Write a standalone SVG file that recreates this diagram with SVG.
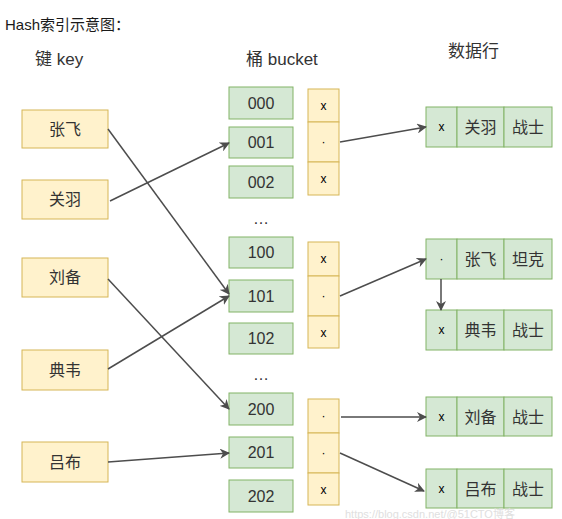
<svg xmlns="http://www.w3.org/2000/svg" width="562" height="519" viewBox="0 0 562 519">
<defs>
<marker id="ah" viewBox="0 0 10 10" refX="9" refY="5" markerWidth="10" markerHeight="10" markerUnits="userSpaceOnUse" orient="auto">
<path d="M0,0 L10,5 L0,10 L3,5 Z" fill="#4d4d4d"/>
</marker>
<style>
text{font-family:"Liberation Sans","Noto Sans CJK SC",sans-serif;fill:#333;}
.y{fill:#fff2cc;stroke:#d6b656;stroke-width:1;}
.g{fill:#d5e8d4;stroke:#82b366;stroke-width:1;}
.h{font-size:17px;}
.k{font-size:16px;text-anchor:middle;}
.p{font-size:12px;text-anchor:middle;fill:#000;}
.c line{stroke:#4d4d4d;stroke-width:1.5;marker-end:url(#ah);}
.wm{font-size:11px;fill:#e0e0e0;}
</style>
</defs>
<rect width="562" height="519" fill="#fff"/>
<text x="5" y="30" style="font-size:15px;fill:#1a1a1a">Hash索引示意图：</text>
<text class="h" x="35" y="65">键 key</text>
<text class="h" x="246" y="65">桶 bucket</text>
<text class="h" x="448" y="57">数据行</text>

<g id="keys">
<g id="k-zhangfei"><rect class="y" x="22" y="110" width="86" height="38"/><text class="k" x="65" y="135">张飞</text></g>
<g id="k-guanyu"><rect class="y" x="22" y="180" width="86" height="39"/><text class="k" x="65" y="205">关羽</text></g>
<g id="k-liubei"><rect class="y" x="22" y="258" width="86" height="39"/><text class="k" x="65" y="283">刘备</text></g>
<g id="k-dianwei"><rect class="y" x="22" y="350" width="86" height="40"/><text class="k" x="65" y="376">典韦</text></g>
<g id="k-lvbu"><rect class="y" x="22" y="442" width="86" height="40"/><text class="k" x="65" y="468">吕布</text></g>
</g>

<g id="buckets">
<g id="b000"><rect class="g" x="229" y="87" width="64" height="32"/><text class="k" x="261" y="109">000</text></g>
<g id="b001"><rect class="g" x="229" y="127" width="64" height="31"/><text class="k" x="261" y="148">001</text></g>
<g id="b002"><rect class="g" x="229" y="166" width="64" height="32"/><text class="k" x="261" y="188">002</text></g>
<text class="k" x="261" y="224">…</text>
<g id="b100"><rect class="g" x="229" y="237" width="64" height="31"/><text class="k" x="261" y="258">100</text></g>
<g id="b101"><rect class="g" x="229" y="280" width="64" height="32"/><text class="k" x="261" y="302">101</text></g>
<g id="b102"><rect class="g" x="229" y="323" width="64" height="31"/><text class="k" x="261" y="344">102</text></g>
<text class="k" x="261" y="380">…</text>
<g id="b200"><rect class="g" x="229" y="393" width="64" height="32"/><text class="k" x="261" y="415">200</text></g>
<g id="b201"><rect class="g" x="229" y="437" width="64" height="31"/><text class="k" x="261" y="458">201</text></g>
<g id="b202"><rect class="g" x="229" y="480" width="64" height="32"/><text class="k" x="261" y="502">202</text></g>
</g>

<g id="pointers">
<g id="ptr0">
<rect class="y" x="308" y="89" width="31" height="33"/><text class="p" x="323.5" y="110">x</text>
<rect class="y" x="308" y="122" width="31" height="40"/><text class="p" x="323.5" y="146">·</text>
<rect class="y" x="308" y="162" width="31" height="33"/><text class="p" x="323.5" y="183">x</text>
</g>
<g id="ptr1">
<rect class="y" x="308" y="242" width="31" height="34"/><text class="p" x="323.5" y="263">x</text>
<rect class="y" x="308" y="276" width="31" height="40"/><text class="p" x="323.5" y="300">·</text>
<rect class="y" x="308" y="316" width="31" height="32"/><text class="p" x="323.5" y="337">x</text>
</g>
<g id="ptr2">
<rect class="y" x="308" y="399" width="31" height="34"/><text class="p" x="323.5" y="420">·</text>
<rect class="y" x="308" y="433" width="31" height="40"/><text class="p" x="323.5" y="457">·</text>
<rect class="y" x="308" y="473" width="31" height="32"/><text class="p" x="323.5" y="494">x</text>
</g>
</g>

<g id="rows">
<g id="r-guanyu"><rect class="g" x="426" y="107" width="31" height="40"/><rect class="g" x="457" y="107" width="47" height="40"/><rect class="g" x="504" y="107" width="48" height="40"/>
<text class="p" x="441.5" y="131">x</text><text class="k" x="480.5" y="133">关羽</text><text class="k" x="528" y="133">战士</text></g>
<g id="r-zhangfei"><rect class="g" x="426" y="239" width="31" height="40"/><rect class="g" x="457" y="239" width="47" height="40"/><rect class="g" x="504" y="239" width="48" height="40"/>
<text class="p" x="441.5" y="263">·</text><text class="k" x="480.5" y="265">张飞</text><text class="k" x="528" y="265">坦克</text></g>
<g id="r-dianwei"><rect class="g" x="426" y="310" width="31" height="40"/><rect class="g" x="457" y="310" width="47" height="40"/><rect class="g" x="504" y="310" width="48" height="40"/>
<text class="p" x="441.5" y="334">x</text><text class="k" x="480.5" y="336">典韦</text><text class="k" x="528" y="336">战士</text></g>
<g id="r-liubei"><rect class="g" x="426" y="397" width="31" height="39"/><rect class="g" x="457" y="397" width="47" height="39"/><rect class="g" x="504" y="397" width="48" height="39"/>
<text class="p" x="441.5" y="421">x</text><text class="k" x="480.5" y="423">刘备</text><text class="k" x="528" y="423">战士</text></g>
<g id="r-lvbu"><rect class="g" x="426" y="469" width="31" height="39"/><rect class="g" x="457" y="469" width="47" height="39"/><rect class="g" x="504" y="469" width="48" height="39"/>
<text class="p" x="441.5" y="493">x</text><text class="k" x="480.5" y="495">吕布</text><text class="k" x="528" y="495">战士</text></g>
</g>

<g id="connectors" class="c">
<line x1="108" y1="129" x2="229" y2="294"/>
<line x1="110" y1="201" x2="229" y2="143"/>
<line x1="108" y1="279" x2="229" y2="409"/>
<line x1="108" y1="369" x2="229" y2="296"/>
<line x1="108" y1="462" x2="229" y2="453"/>
<line x1="340" y1="142" x2="426" y2="127"/>
<line x1="340" y1="296" x2="426" y2="259"/>
<line x1="441" y1="279" x2="441" y2="310"/>
<line x1="341" y1="417" x2="426" y2="417"/>
<line x1="340" y1="453" x2="424" y2="491"/>
</g>

<text class="wm" x="345" y="518">https://blog.csdn.net/@51CTO博客</text>
</svg>
